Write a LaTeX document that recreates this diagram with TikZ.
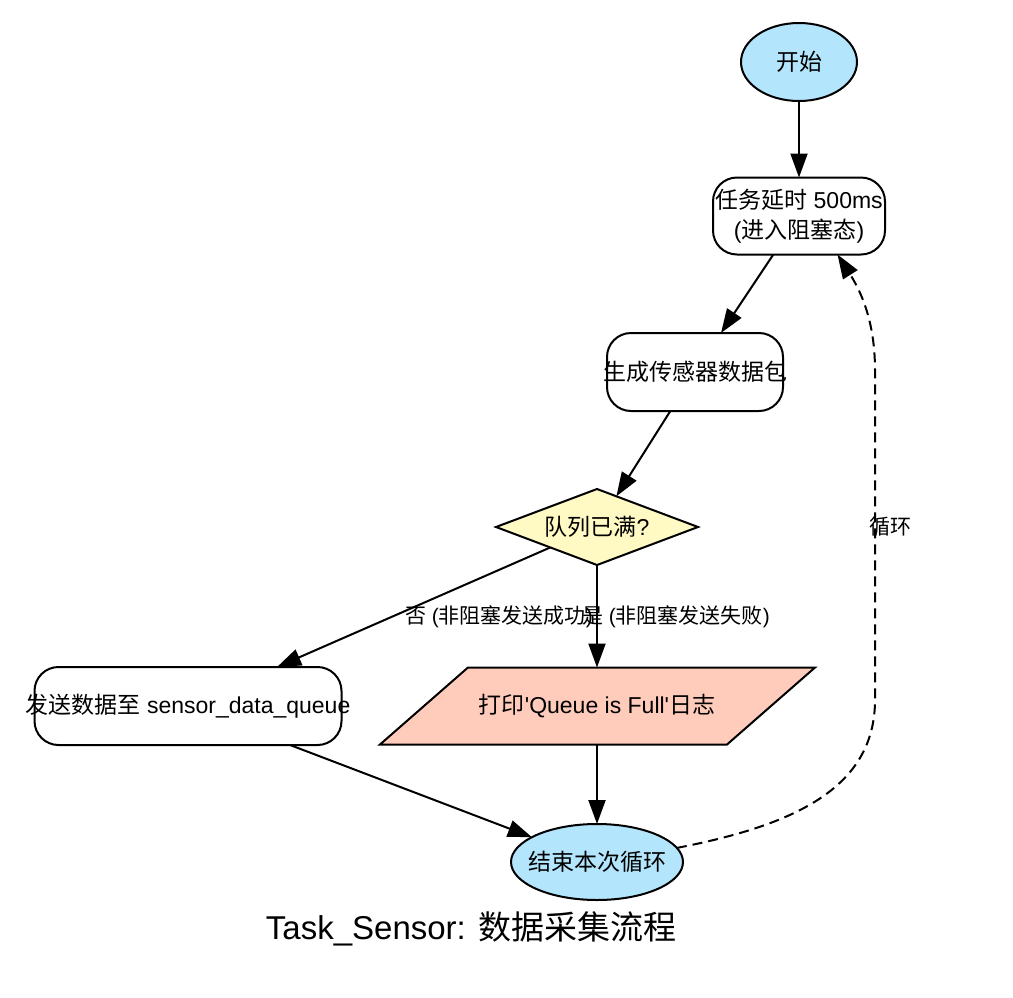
\documentclass[tikz,border=0pt]{standalone}
\usepackage{fontspec}
\setmainfont{Liberation Sans}
\newfontfamily\rawfont{Liberation Sans}
\newfontfamily\cjkfont{Noto Sans CJK SC}
\newcommand\zh[1]{{\cjkfont #1}}
\usetikzlibrary{shapes.geometric,arrows.meta}
\definecolor{cblue}{HTML}{B3E5FC}
\definecolor{cyellow}{HTML}{FFF9C4}
\definecolor{csalmon}{HTML}{FFCCBC}
\tikzset{
  base/.style={draw=black, line width=2pt, inner sep=0pt, outer sep=0pt,
    font=\fontsize{23}{30}\selectfont, align=center},
  term/.style={base, ellipse, fill=cblue},
  proc/.style={base, rectangle, rounded corners=24pt, fill=white},
  decide/.style={base, diamond, fill=cyellow},
  iobox/.style={draw=black, line width=2pt, fill=csalmon, line join=miter},
  lbl/.style={font=\fontsize{21}{25}\selectfont, inner sep=0pt},
  flow/.style={line width=2pt, -{Triangle[length=24pt,width=17pt]}},
  loopflow/.style={flow, dash pattern=on 10pt off 6pt},
}
\begin{document}
\begin{tikzpicture}[x=1pt,y=-1pt]
\useasboundingbox (0,0) rectangle (1013,997);

\node[term, minimum width=116pt, minimum height=78pt] (start) at (799,62)
  {\makebox[0pt]{\zh{开始}}};
\node[proc, minimum width=172pt, minimum height=77pt] (delay) at (799,216)
  {\makebox[0pt]{\zh{任务延时} 500ms}\\\makebox[0pt]{(\zh{进入阻塞态})}};
\node[proc, minimum width=176pt, minimum height=78pt] (gen) at (695,372)
  {\makebox[0pt]{\zh{生成传感器数据包}}};
\node[decide, minimum width=202pt, minimum height=76pt] (dec) at (597,527)
  {\makebox[0pt]{\zh{队列已满}?}};
\node[proc, minimum width=307pt, minimum height=78pt] (send) at (188,706)
  {\makebox[0pt]{\zh{发送数据至} sensor\_data\_queue}};

\draw[iobox] (380,744.5) -- (468,667.5) -- (815,667.5) -- (727,744.5) -- cycle;
\node[font=\fontsize{23}{30}\selectfont, inner sep=0pt, outer sep=0pt,
      minimum width=347pt, minimum height=77pt] (log) at (597,706)
  {\makebox[0pt]{\zh{打印}{\rawfont 'Queue is Full'}\zh{日志}}};

\node[term, minimum width=172pt, minimum height=76pt] (end) at (597,862)
  {\makebox[0pt]{\zh{结束本次循环}}};

\draw[flow] (start) -- (delay);
\draw[flow] (delay) -- (gen);
\draw[flow] (gen) -- (dec);
\draw[flow] (dec) -- (send);
\draw[flow] (dec) -- (log);
\draw[flow] (send) -- (end);
\draw[flow] (log) -- (end);
\draw[loopflow] (end.10) .. controls (790,826) and (875,790) .. (875,700)
  -- (875,370) .. controls (875,320) and (860,290) .. (delay.-45);

\node[lbl] (lno) at (499,617) {\zh{否} (\zh{非阻塞发送成功})};
\node[lbl] (lyes) at (676,617) {\zh{是} (\zh{非阻塞发送失败})};
\node[lbl] (lloop) at (890,527) {\zh{循环}};

\node[font=\fontsize{33}{40}\selectfont, inner sep=0pt, anchor=base] (title)
  at (471,939) {Task\_Sensor: \zh{数据采集流程}};
\end{tikzpicture}
\end{document}
